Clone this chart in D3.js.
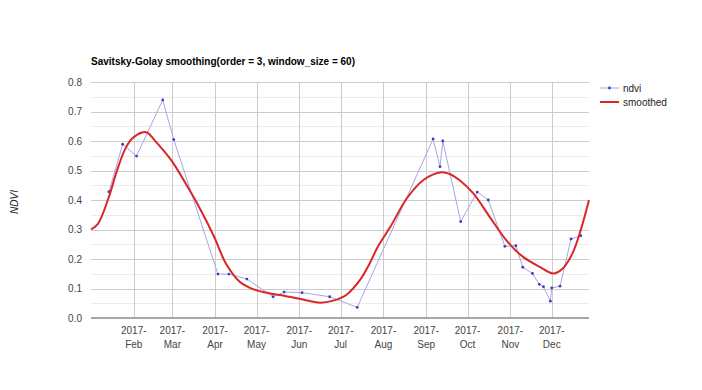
<!DOCTYPE html>
<html>
<head>
<meta charset="utf-8">
<script src="https://cdn.jsdelivr.net/npm/d3@7"></script>
<style>
  body { margin: 0; background: #fff; }
  svg { font-family: "Liberation Sans", Arial, sans-serif; }
  .tick-label { font-size: 10px; fill: #444; }
</style>
</head>
<body>
<div class="chartContainer"></div>
<script>
// ----------------------------------------------
// NDVI time series with Savitsky-Golay smoothed curve
// ----------------------------------------------

// raw ndvi observations (date, value)
var NDVI_DATES = ["2017-01-14","2017-01-24","2017-02-03","2017-02-22","2017-03-02",
    "2017-04-03","2017-04-11","2017-04-24","2017-05-13","2017-05-21","2017-06-03",
    "2017-06-23","2017-07-13","2017-09-06","2017-09-11","2017-09-13","2017-09-26",
    "2017-10-08","2017-10-16","2017-10-28","2017-11-05","2017-11-10","2017-11-17",
    "2017-11-22","2017-11-25","2017-11-30","2017-12-01","2017-12-07","2017-12-15",
    "2017-12-22"];
var NDVI_VALUES = [0.428, 0.589, 0.549, 0.739, 0.605,
    0.149, 0.149, 0.132, 0.072, 0.088, 0.086,
    0.072, 0.036, 0.607, 0.513, 0.600, 0.327,
    0.427, 0.400, 0.243, 0.245, 0.172, 0.151,
    0.114, 0.106, 0.057, 0.102, 0.108, 0.268,
    0.279];

// smoothed curve
var SMOOTH_DATES = ["2017-01-01","2017-01-06","2017-01-14","2017-01-20","2017-01-26",
    "2017-01-31","2017-02-07","2017-02-11","2017-02-16","2017-02-28","2017-03-12",
    "2017-03-19","2017-03-31","2017-04-09","2017-04-19","2017-04-29","2017-05-10",
    "2017-05-18","2017-06-01","2017-06-16","2017-06-25","2017-07-05","2017-07-15",
    "2017-07-22","2017-07-28","2017-08-06","2017-08-18","2017-08-30","2017-09-12",
    "2017-09-18","2017-09-25","2017-10-05","2017-10-17","2017-10-29","2017-11-10",
    "2017-11-22","2017-12-02","2017-12-09","2017-12-16","2017-12-22","2017-12-28"];
var SMOOTH_VALUES = [0.300, 0.319, 0.411, 0.502, 0.575,
    0.609, 0.629, 0.628, 0.603, 0.536, 0.445,
    0.388, 0.278, 0.183, 0.122, 0.097, 0.084,
    0.078, 0.065, 0.052, 0.058, 0.078, 0.129,
    0.185, 0.242, 0.309, 0.406, 0.468, 0.494,
    0.488, 0.468, 0.423, 0.343, 0.264, 0.208,
    0.174, 0.151, 0.168, 0.219, 0.298, 0.400];

var Y_TICKS = [0, 0.1, 0.2, 0.3, 0.4, 0.5, 0.6, 0.7, 0.8];
var Y_MINOR = [0.05, 0.15, 0.25, 0.35, 0.45, 0.55, 0.65, 0.75];

var TITLE = "Savitsky-Golay smoothing(order = 3, window_size = 60)";
var SERIES_NAMES = ["ndvi", "smoothed"];

//constants
var WIDTH = 702, HEIGHT = 390;
var PLOT = {left: 91, right: 589, top: 82, bottom: 318};
var NDVI_LINE = "#a6a6e4", NDVI_DOT = "#3b3bc4", SMOOTH_COLOR = "#d92626";

var parse = d3.timeParse("%Y-%m-%d");
var ndvi = NDVI_DATES.map(function(d, i){ return {date: parse(d), value: NDVI_VALUES[i]}; });
var smoothed = SMOOTH_DATES.map(function(d, i){ return {date: parse(d), value: SMOOTH_VALUES[i]}; });

var x = d3.scaleTime()
    .domain([parse("2017-01-01"), parse("2017-12-28")])
    .range([PLOT.left, PLOT.right]);
var y = d3.scaleLinear()
    .domain([0, 0.8])
    .range([PLOT.bottom, PLOT.top]);

var svg = d3.select(".chartContainer")
    .append("svg")
    .attr("width", WIDTH)
    .attr("height", HEIGHT);

// minor + major horizontal gridlines
svg.append("g").selectAll("line")
    .data(Y_MINOR)
  .enter().append("line")
    .attr("x1", PLOT.left).attr("x2", PLOT.right)
    .attr("y1", function(d){ return Math.round(y(d)) + 0.5; })
    .attr("y2", function(d){ return Math.round(y(d)) + 0.5; })
    .attr("stroke", "#ececec");

svg.append("g").selectAll("line")
    .data(Y_TICKS.slice(1))
  .enter().append("line")
    .attr("x1", PLOT.left).attr("x2", PLOT.right)
    .attr("y1", function(d){ return Math.round(y(d)) + 0.5; })
    .attr("y2", function(d){ return Math.round(y(d)) + 0.5; })
    .attr("stroke", "#cccccc");

// vertical month gridlines
var months = x.ticks(d3.timeMonth.every(1)).filter(function(d){ return d.getMonth() > 0; });
svg.append("g").selectAll("line")
    .data(months)
  .enter().append("line")
    .attr("x1", function(d){ return Math.round(x(d)) + 0.5; })
    .attr("x2", function(d){ return Math.round(x(d)) + 0.5; })
    .attr("y1", PLOT.top).attr("y2", PLOT.bottom)
    .attr("stroke", "#cccccc");

// baseline
svg.append("line")
    .attr("x1", PLOT.left).attr("x2", PLOT.right)
    .attr("y1", y(0)).attr("y2", y(0))
    .attr("stroke", "#888").attr("stroke-width", 1.5);

// y tick labels
svg.append("g").selectAll("text")
    .data(Y_TICKS)
  .enter().append("text")
    .attr("class", "tick-label")
    .attr("x", 82)
    .attr("y", function(d){ return y(d) + 3.5; })
    .attr("text-anchor", "end")
    .text(function(d){ return d3.format(".1f")(d); });

// x tick labels (two lines)
var fmtMonth = d3.timeFormat("%b");
var xl = svg.append("g").selectAll("g")
    .data(months)
  .enter().append("g");
xl.append("text")
    .attr("class", "tick-label")
    .attr("x", function(d){ return x(d); })
    .attr("y", 334)
    .attr("text-anchor", "middle")
    .text(function(d){ return d.getFullYear() + "-"; });
xl.append("text")
    .attr("class", "tick-label")
    .attr("x", function(d){ return x(d); })
    .attr("y", 348)
    .attr("text-anchor", "middle")
    .text(function(d){ return fmtMonth(d); });

// ndvi series
var line = d3.line()
    .x(function(d){ return x(d.date); })
    .y(function(d){ return y(d.value); });

svg.append("path")
    .datum(ndvi)
    .attr("d", line)
    .attr("fill", "none")
    .attr("stroke", NDVI_LINE)
    .attr("stroke-width", 1);

svg.append("g").selectAll("circle")
    .data(ndvi)
  .enter().append("circle")
    .attr("cx", function(d){ return x(d.date); })
    .attr("cy", function(d){ return y(d.value); })
    .attr("r", 1.4)
    .attr("fill", NDVI_DOT);

// smoothed series
svg.append("path")
    .datum(smoothed)
    .attr("d", line.curve(d3.curveCatmullRom.alpha(0.5)))
    .attr("fill", "none")
    .attr("stroke", SMOOTH_COLOR)
    .attr("stroke-width", 2);

// title
svg.append("text")
    .attr("x", PLOT.left)
    .attr("y", 65)
    .attr("font-size", "10px")
    .attr("font-weight", "bold")
    .attr("fill", "#000")
    .text(TITLE);

// y axis title
svg.append("text")
    .attr("transform", "translate(18,202) rotate(-90)")
    .attr("text-anchor", "middle")
    .attr("font-size", "10px")
    .attr("font-style", "italic")
    .attr("fill", "#222")
    .text("NDVI");

// legend
var legend = svg.append("g").selectAll("g")
    .data(SERIES_NAMES)
  .enter().append("g")
    .attr("transform", function(d, i){ return "translate(600," + (88 + i * 14) + ")"; });
legend.append("line")
    .attr("x1", 0).attr("x2", 19)
    .attr("stroke", function(d, i){ return i ? SMOOTH_COLOR : NDVI_LINE; })
    .attr("stroke-width", function(d, i){ return i ? 2 : 1; });
legend.filter(function(d, i){ return i == 0; }).append("circle")
    .attr("cx", 9.5).attr("r", 1.4).attr("fill", NDVI_DOT);
legend.append("text")
    .attr("x", 23).attr("y", 3.5)
    .attr("font-size", "10px")
    .attr("fill", "#222")
    .text(function(d){ return d; });
</script>
</body>
</html>
